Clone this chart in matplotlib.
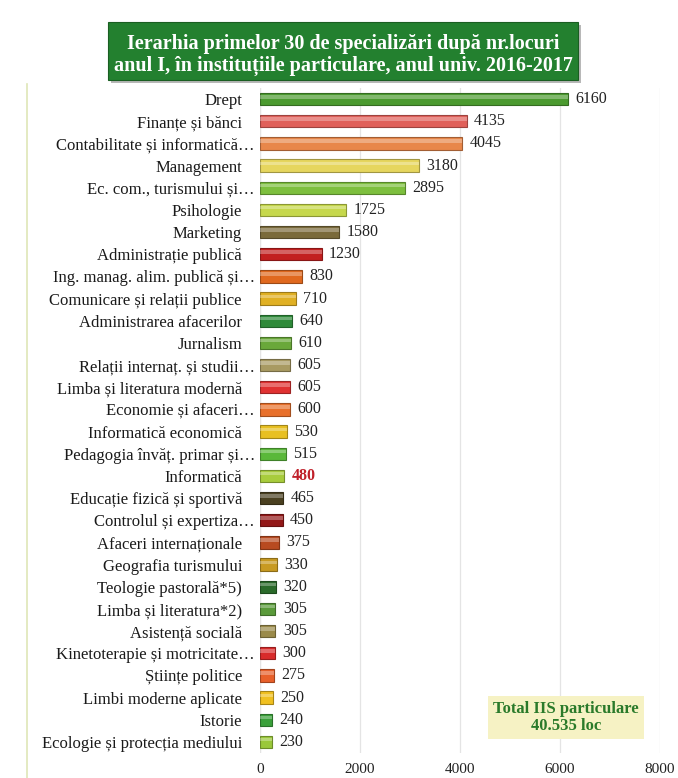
import matplotlib
matplotlib.use("Agg")
import matplotlib.pyplot as plt
from matplotlib.patches import Rectangle
from matplotlib.colors import to_rgb
from matplotlib.transforms import ScaledTranslation

plt.rcParams['font.family'] = ['Liberation Serif', 'DejaVu Serif']

# specializations, ordered by number of first-year places
specializari = [
    "Drept",
    "Finanțe și bănci",
    "Contabilitate și informatică…",
    "Management",
    "Ec. com., turismului și…",
    "Psihologie",
    "Marketing",
    "Administrație publică",
    "Ing. manag. alim. publică și…",
    "Comunicare și relații publice",
    "Administrarea afacerilor",
    "Jurnalism",
    "Relații internaț. și studii…",
    "Limba și literatura modernă",
    "Economie și afaceri…",
    "Informatică economică",
    "Pedagogia învăț. primar și…",
    "Informatică",
    "Educație fizică și sportivă",
    "Controlul și expertiza…",
    "Afaceri internaționale",
    "Geografia turismului",
    "Teologie pastorală*5)",
    "Limba și literatura*2)",
    "Asistență socială",
    "Kinetoterapie și motricitate…",
    "Științe politice",
    "Limbi moderne aplicate",
    "Istorie",
    "Ecologie și protecția mediului",
]
locuri = [6160, 4135, 4045, 3180, 2895, 1725, 1580, 1230, 830, 710,
          640, 610, 605, 605, 600, 530, 515, 480, 465, 450,
          375, 330, 320, 305, 305, 300, 275, 250, 240, 230]
culori = ["#4b9a2f", "#e0605a", "#e8874a", "#e6d65e", "#7dbf3e",
          "#c6d84c", "#7a6a3a", "#c21f1f", "#e0691f", "#e0b024",
          "#2f8a3a", "#6aa83a", "#a89a62", "#e03232", "#e8702b",
          "#e8c022", "#5ab83a", "#a8cc3c", "#4a4020", "#921818",
          "#b84a20", "#c89a22", "#2a6a2a", "#5a9a3a", "#9a8a4a",
          "#d82a2a", "#e8602a", "#f0c020", "#3aa03a", "#9ac83a"]
evidentiat = "Informatică"

titlu = "Ierarhia primelor 30 de specializări după nr.locuri\nanul I, în instituțiile particulare, anul univ. 2016-2017"
total_text = "Total IIS particulare\n40.535 loc"
x_ticks = [0, 2000, 4000, 6000, 8000]

fig = plt.figure(figsize=(6.78, 7.78), dpi=100)
ax = fig.add_axes([260 / 678, 25 / 778, 400 / 678, 665 / 778])

y = list(range(len(locuri)))


def darker(c, f=0.7):
    r, g, b = to_rgb(c)
    return (r * f, g * f, b * f)


ax.barh(y, locuri, height=0.56, color=culori,
        edgecolor=[darker(c) for c in culori], linewidth=0.8, zorder=3)
# glossy highlight on the upper half of each bar
ax.barh([i - 0.1 for i in y], locuri, height=0.16, color="white",
        alpha=0.3, linewidth=0, zorder=4)

for i, (v, nume) in enumerate(zip(locuri, specializari)):
    if nume == evidentiat:
        ax.text(v + 150, i, str(v), va="center", ha="left", fontsize=11.5,
                color="#c0202a", fontweight="bold")
    else:
        ax.text(v + 150, i, str(v), va="center", ha="left", fontsize=11.5,
                color="#222222")

ax.set_yticks(y)
ax.set_yticklabels(specializari, fontsize=12, color="#1a1a1a")
ax.set_ylim(len(locuri) - 0.5, -0.5)
ax.set_xlim(0, 8000)
ax.set_xticks(x_ticks)
ax.set_xticklabels([str(t) for t in x_ticks], fontsize=11, color="#222222")
ax.tick_params(axis="y", length=0, pad=13)
ax.tick_params(axis="x", length=0, pad=7)
ax.grid(axis="x", color="#e4e4e4", linewidth=0.9, zorder=0)
for s in ax.spines.values():
    s.set_visible(False)
ax.axvline(0, color="#e8e8e8", linewidth=0.9, zorder=1)

# shortened names: let the dots run on towards the bar
shift = ScaledTranslation(13 / 100, 0, fig.dpi_scale_trans)
for lab in ax.get_yticklabels():
    if lab.get_text().endswith("…"):
        lab.set_transform(lab.get_transform() + shift)

# total box in the lower right corner
ax.text(6120, 27.9, total_text, ha="center", va="center", fontsize=12,
        fontweight="bold", color="#2a7a2a", linespacing=1.1, zorder=5,
        bbox=dict(boxstyle="square,pad=0.3", facecolor="#f6f2c4",
                  edgecolor="none"))

# title banner
fig.patches.append(Rectangle((111 / 678, 1 - 83 / 778), 470 / 678, 58 / 778,
                             transform=fig.transFigure, facecolor="#b8b8b8",
                             edgecolor="none", zorder=1))
fig.patches.append(Rectangle((108 / 678, 1 - 80 / 778), 470 / 678, 58 / 778,
                             transform=fig.transFigure, facecolor="#23802f",
                             edgecolor="#1a5e22", linewidth=0.8, zorder=2))
fig.text(343 / 678, 1 - 55 / 778, titlu, ha="center", va="center",
         fontsize=14.5, fontweight="bold", color="white", linespacing=1.15,
         zorder=3)

# left frame line
fig.add_artist(plt.Line2D([27 / 678, 27 / 678], [0, 1 - 84 / 778],
                          transform=fig.transFigure, color="#dfe6b8",
                          linewidth=1.2))

fig.savefig("out.png", dpi=100)
plt.close(fig)
